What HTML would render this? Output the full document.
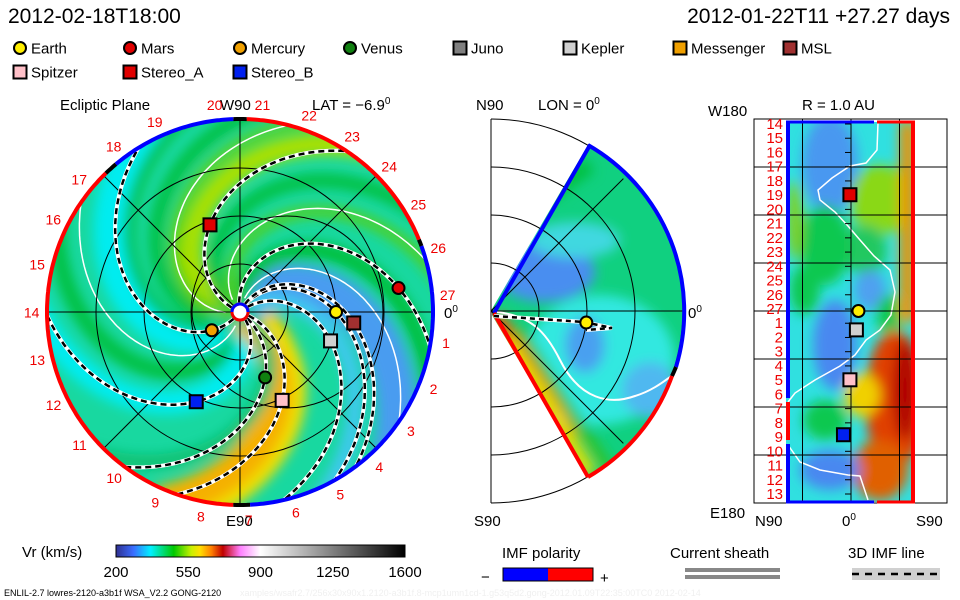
<!DOCTYPE html>
<html><head><meta charset="utf-8"><style>
html,body{margin:0;padding:0;background:#fff;}
svg{display:block;font-family:"Liberation Sans",sans-serif;}
</style></head><body>
<svg id="s" width="960" height="600" viewBox="0 0 960 600">
<defs>
<clipPath id="clipL"><circle cx="240" cy="312" r="193"/></clipPath>
<clipPath id="clipM"><path d="M492,309 L588,145 A192,192 0 0 1 588,477 L492,315 Z"/></clipPath>
<clipPath id="clipR"><rect x="786" y="122" width="129" height="380"/></clipPath>
<filter id="bl" x="-50%" y="-50%" width="200%" height="200%"><feGaussianBlur stdDeviation="6"/></filter>
<linearGradient id="cbar" x1="0" x2="1" y1="0" y2="0">
<stop offset="0" stop-color="#303090"/><stop offset="0.06" stop-color="#3a6cff"/><stop offset="0.12" stop-color="#00f0ff"/>
<stop offset="0.2" stop-color="#00c800"/><stop offset="0.26" stop-color="#c8f000"/><stop offset="0.29" stop-color="#ffe000"/>
<stop offset="0.33" stop-color="#ff8000"/><stop offset="0.37" stop-color="#c00000"/><stop offset="0.43" stop-color="#ff80ff"/>
<stop offset="0.5" stop-color="#ffffff"/><stop offset="1" stop-color="#000000"/>
</linearGradient>
</defs>

<text x="8" y="23" font-size="21">2012-02-18T18:00</text>
<text x="950" y="23" font-size="21" text-anchor="end">2012-01-22T11 +27.27 days</text>

<g id="legend" font-size="15"></g>

<g>
<text x="60" y="110" font-size="15">Ecliptic Plane</text>
<text x="220" y="110" font-size="15">W90</text>
<text x="312" y="110" font-size="15">LAT = −6.9<tspan dy="-6" font-size="10">0</tspan></text>
<text x="226" y="526" font-size="15">E90</text>
<text x="444" y="318" font-size="15">0<tspan dy="-6" font-size="10">0</tspan></text>
<g clip-path="url(#clipL)">
<circle cx="240" cy="312" r="193" fill="#18d8a0"/>
<g id="bandsL" filter="url(#bl)"></g>
<g id="contL"></g>
<g id="gridL" stroke="#000" stroke-width="1" fill="none"></g>
<g id="spiralL"></g>
</g>
<g id="rimL"></g>
<circle cx="240" cy="312" r="8" fill="#fff" stroke="#e00" stroke-width="3"/>
<path d="M232,312 A8,8 0 0 1 248,312" fill="none" stroke="#00f" stroke-width="3"/>
<g id="lonLabels" fill="#e00" font-size="14"></g>
<g id="scL"></g>
</g>

<g>
<text x="476" y="110" font-size="15">N90</text>
<text x="538" y="110" font-size="15">LON = 0<tspan dy="-6" font-size="10">0</tspan></text>
<text x="474" y="526" font-size="15">S90</text>
<text x="688" y="318" font-size="15">0<tspan dy="-6" font-size="10">0</tspan></text>
<g clip-path="url(#clipM)">
<rect x="480" y="130" width="220" height="360" fill="#10d080"/>
<g filter="url(#bl)">
<ellipse cx="600" cy="360" rx="75" ry="65" fill="#30e8e0"/>
<ellipse cx="545" cy="272" rx="50" ry="30" fill="#4a8ef0"/>
<ellipse cx="585" cy="345" rx="20" ry="28" fill="#4aa0f0"/>
<ellipse cx="650" cy="390" rx="28" ry="28" fill="#50b8f0"/>
<ellipse cx="575" cy="240" rx="45" ry="18" fill="#40d8e0"/>
<path d="M540,200 L590,165" stroke="#00c040" stroke-width="16" fill="none"/>
<path d="M495,318 L530,370 L570,440" stroke="#f06000" stroke-width="18" fill="none"/>
<path d="M505,340 L545,400 L590,475" stroke="#f0e000" stroke-width="14" fill="none"/>
<path d="M520,330 L560,395 L610,470" stroke="#30c020" stroke-width="10" fill="none"/>
<path d="M510,240 L560,170" stroke="#80d020" stroke-width="10" fill="none"/>
</g>
<path d="M497,312 C530,316 545,330 560,360 C580,400 610,405 635,396 C655,390 668,378 680,370" stroke="#fff" stroke-width="2" fill="none"/>
</g>
<g stroke="#000" stroke-width="1" fill="none" id="gridM"></g>
<path d="M494,313 L590,145" stroke="#00f" stroke-width="4" fill="none"/>
<path d="M588,145 A192,192 0 0 1 676,367" stroke="#00f" stroke-width="4" fill="none"/>
<path d="M676,367 A192,192 0 0 1 672,376" stroke="#000" stroke-width="4" fill="none"/>
<path d="M672,376 A192,192 0 0 1 588,477" stroke="#f00" stroke-width="4" fill="none"/>
<path d="M494,313 L588,477" stroke="#f00" stroke-width="4" fill="none"/>
<path d="M494,316 L584,322 L612,328 L586,330" stroke="#fff" stroke-width="4" fill="none"/>
<path d="M494,316 L584,322 L612,328 L586,330" stroke="#000" stroke-width="2.5" stroke-dasharray="5,4" fill="none"/>
<g id="scM"></g>
</g>

<g>
<text x="802" y="110" font-size="15">R = 1.0 AU</text>
<text x="708" y="116" font-size="15">W180</text>
<text x="710" y="518" font-size="15">E180</text>
<text x="755" y="526" font-size="15">N90</text>
<text x="842" y="526" font-size="15">0<tspan dy="-6" font-size="10">0</tspan></text>
<text x="916" y="526" font-size="15">S90</text>
<rect x="754" y="119" width="193" height="384" fill="#fff" stroke="#000"/>
<g clip-path="url(#clipR)">
<rect x="786" y="122" width="129" height="380" fill="#30e0e0"/>
<g filter="url(#bl)">
<ellipse cx="830" cy="165" rx="28" ry="50" fill="#4a98f0"/>
<ellipse cx="880" cy="200" rx="30" ry="35" fill="#8ad818"/>
<ellipse cx="865" cy="250" rx="22" ry="25" fill="#20c860"/>
<ellipse cx="825" cy="245" rx="25" ry="40" fill="#10c850"/>
<ellipse cx="805" cy="290" rx="15" ry="25" fill="#10c850"/>
<ellipse cx="835" cy="345" rx="22" ry="45" fill="#4a88f0"/>
<ellipse cx="870" cy="290" rx="16" ry="20" fill="#50a0f0"/>
<ellipse cx="890" cy="315" rx="14" ry="20" fill="#10c850"/>
<ellipse cx="895" cy="400" rx="30" ry="70" fill="#e04000"/>
<ellipse cx="905" cy="390" rx="12" ry="50" fill="#b00000"/>
<ellipse cx="862" cy="395" rx="18" ry="22" fill="#f0d000"/>
<ellipse cx="880" cy="470" rx="28" ry="30" fill="#e06000"/>
<ellipse cx="830" cy="470" rx="30" ry="20" fill="#4a88f0"/>
<ellipse cx="825" cy="420" rx="22" ry="20" fill="#10c850"/>
<rect x="900" y="122" width="15" height="200" fill="#f09000"/>
<ellipse cx="795" cy="220" rx="8" ry="40" fill="#80d020"/>
</g>
<polyline points="878,123 877,150 866,163 850,166 832,178 818,190 820,200 835,212 848,226 860,240 874,256 890,270 895,292 891,315 880,330 866,340 855,355 840,366 815,380 795,393 788,402" fill="none" stroke="#fff" stroke-width="1.5"/>
<polyline points="788,445 800,462 820,470 848,475 860,476 868,500" fill="none" stroke="#fff" stroke-width="1.5"/>
</g>
<g id="gridR" stroke="#000" stroke-width="1"></g>
<path d="M788,122 L788,398" stroke="#00f" stroke-width="4"/>
<path d="M788,402 L788,440" stroke="#f00" stroke-width="4"/>
<path d="M788,444 L788,502" stroke="#00f" stroke-width="4"/>
<path d="M913,122 L913,502" stroke="#f00" stroke-width="4"/>
<path d="M786,122 L874,122" stroke="#00f" stroke-width="3"/>
<path d="M877,122 L915,122" stroke="#f00" stroke-width="3"/>
<path d="M786,502 L874,502" stroke="#00f" stroke-width="3"/>
<path d="M877,502 L915,502" stroke="#f00" stroke-width="3"/>
<g id="rowLabels" fill="#e00" font-size="15"></g>
<g id="scR"></g>
</g>

<g>
<text x="22" y="557" font-size="15">Vr (km/s)</text>
<rect x="116" y="545" width="289" height="12" fill="url(#cbar)" stroke="#000" stroke-width="1"/>
<g id="cbTicks" font-size="15" text-anchor="middle"></g>
</g>
<g>
<text x="502" y="558" font-size="15">IMF polarity</text>
<rect x="503" y="568" width="45" height="13" fill="#00f"/>
<rect x="548" y="568" width="45" height="13" fill="#f00"/>
<rect x="503" y="568" width="90" height="13" fill="none" stroke="#000"/>
<text x="481" y="582" font-size="15">−</text><text x="600" y="583" font-size="15">+</text>
</g>
<g>
<text x="670" y="558" font-size="15">Current sheath</text>
<rect x="685" y="568" width="95" height="4" fill="#888"/>
<rect x="685" y="575" width="95" height="4" fill="#888"/>
</g>
<g>
<text x="848" y="558" font-size="15">3D IMF line</text>
<rect x="852" y="568" width="88" height="12" fill="#d0d0d0"/>
<line x1="852" y1="574" x2="940" y2="574" stroke="#000" stroke-width="2.5" stroke-dasharray="7,6"/>
</g>
<text x="4" y="596" font-size="9">ENLIL-2.7 lowres-2120-a3b1f WSA_V2.2 GONG-2120</text>
<text x="240" y="596" font-size="9" fill="#f0f0f0">xamples/wsafr2.7/256x30x90x1.2120-a3b1f.8-mcp1umn1cd-1.g53q5d2.gong-2012.01.09T22:35:00TC0 2012-02-14</text>
</svg>
<script>
var bodyNames = ["Earth","Mars","Mercury","Venus","Kepler","MSL","Spitzer","Stereo_A","Stereo_B"];
var bodyR = [1.0, 1.67, 0.35, 0.73, 0.99, 1.19, 1.02, 0.96, 1.04];
var bodyLon = [0, 8.6, 213, -69, -17.7, -5.5, -64.5, 109, -116];
var bodyLat = [6.9, 0, 0, 0, 5, 0, -1, -1, -7];
var bodyShape = ["c","c","c","c","s","s","s","s","s"];
var bodyColor = ["#ffee00","#e00000","#f0a000","#108010","#d0d0d0","#a03030","#ffc0c8","#e00000","#0020f0"];
var showR = [true,false,false,false,true,false,true,true,true];
var spiralLines = [0,1,2,3,4,5,6,7,8];
var spiralK = [60,55,55,45,58,58,45,50,65];
var legendNames = ["Earth","Mars","Mercury","Venus","Juno","Kepler","Messenger","MSL","Spitzer","Stereo_A","Stereo_B"];
var legendShape = ["c","c","c","c","s","s","s","s","s","s","s"];
var legendColor = ["#ffee00","#e00000","#f0a000","#108010","#808080","#d0d0d0","#f0a000","#a03030","#ffc0c8","#e00000","#0020f0"];
var bandPhase = [175, 150, 205, 240, 275, 300, -25, -10, 55, 35, 95, 125, 330, 225, 190];
var bandK = [57, 57, 57, 57, 57, 57, 40, 42, 45, 48, 55, 55, 50, 57, 57];
var bandColor = ["#a8e000","#00c040","#00c040","#00ecf0","#00c040","#00ecf0","#f5b000","#f0e000","#4a9cf0","#40c8f0","#00c040","#50d020","#10c070","#00c040","#60d010"];
var bandWidth = [22, 14, 14, 30, 16, 24, 40, 14, 40, 16, 18, 12, 14, 10, 10];
var contourPhase = [190, 130, 80, 260];
var lonLabelText = ["20","21","22","23","24","25","26","27","1","2","3","4","5","6","7","8","9","10","11","12","13","14","15","16","17","18","19"];
var rowLabels = ["14","15","16","17","18","19","20","21","22","23","24","25","26","27","1","2","3","4","5","6","7","8","9","10","11","12","13"];
var cbTicks = [200, 550, 900, 1250, 1600];

var NS="http://www.w3.org/2000/svg";
var LC={x:240,y:312}, AU=96;
function lx(r,a){return LC.x + r*AU*Math.cos(a*Math.PI/180);}
function ly(r,a){return LC.y - r*AU*Math.sin(a*Math.PI/180);}
var MC={x:491,y:311};
function mx(r,lat){return MC.x + r*AU*Math.cos(lat*Math.PI/180);}
function my(r,lat){return MC.y + r*AU*Math.sin(lat*Math.PI/180);}
function rx(lat){return 851 + lat*97/90;}
function ry(lon){return 311 - lon*192/180;}
function cbx(v){return 116 + (v-200)/1400*289;}
function el(tag,attrs,parent){var e=document.createElementNS(NS,tag);for(var k in attrs)e.setAttribute(k,attrs[k]);parent.appendChild(e);return e;}
function spiralPath(phi0,k,r0,r1){var d="";for(var r=r0;r<=r1;r+=0.02){var a=phi0-k*r;d+=(d?"L":"M")+lx(r,a).toFixed(1)+","+ly(r,a).toFixed(1);}return d;}
function marker(parent,shape,x,y,color,name){
  var m;
  if(shape==="c"){m=el("circle",{cx:x,cy:y,r:6,fill:color,stroke:"#000","stroke-width":2},parent);}
  else{m=el("rect",{x:x-6.5,y:y-6.5,width:13,height:13,fill:color,stroke:"#000","stroke-width":2},parent);}
  
  
  return m;
}

var lg=document.getElementById("legend");
for(var i=0;i<legendNames.length;i++){
  var row=i<8?0:1, col=i<8?i:i-8;
  var x=20+col*110, y=row?72:48;
  marker(lg,legendShape[i],x,y,legendColor[i],"legend-marker-"+legendNames[i].toLowerCase());
  var t=el("text",{x:x+11,y:y+5.5},lg);t.textContent=legendNames[i];
  
  
}

var bg=document.getElementById("bandsL");
for(var i=0;i<bandPhase.length;i++){
  var p=el("path",{d:spiralPath(bandPhase[i],bandK[i],0.05,2.2),stroke:bandColor[i],"stroke-width":bandWidth[i],fill:"none"},bg);
  
  
}
var cg=document.getElementById("contL");
for(var i=0;i<contourPhase.length;i++){
  var p=el("path",{d:spiralPath(contourPhase[i],57,0.15,2.2),stroke:"#fff","stroke-width":1.5,fill:"none"},cg);
  
  
}
var gl=document.getElementById("gridL");
[0.5,1.0,1.5].forEach(function(r){el("circle",{cx:LC.x,cy:LC.y,r:r*AU},gl);});
el("circle",{cx:LC.x+47,cy:LC.y,r:AU},gl);
[0,45,90,135].forEach(function(a){el("line",{x1:lx(2.1,a),y1:ly(2.1,a),x2:lx(2.1,a+180),y2:ly(2.1,a+180)},gl);});
var sg=document.getElementById("spiralL");
for(var j=0;j<spiralLines.length;j++){
  var i=spiralLines[j], phi0=bodyLon[i]+spiralK[i]*bodyR[i];
  var d=spiralPath(phi0,spiralK[i],0.1,2.2);
  el("path",{d:d,stroke:"#fff","stroke-width":4,fill:"none"},sg);
  var p=el("path",{d:d,stroke:"#000","stroke-width":2.5,"stroke-dasharray":"6,4",fill:"none"},sg);
  
  
}
var rim=document.getElementById("rimL");
function rimArc(a1,a2,color){var d="";for(var a=a1;a<=a2;a+=1){d+=(d?"L":"M")+lx(193/AU,a).toFixed(1)+","+ly(193/AU,a).toFixed(1);}el("path",{d:d,stroke:color,"stroke-width":4,fill:"none"},rim);}
rimArc(22,88,"#f00");rimArc(88,92,"#000");rimArc(92,130,"#00f");rimArc(130,134,"#000");rimArc(134,268,"#f00");rimArc(268,273,"#000");rimArc(273,380,"#00f");rimArc(380,382,"#000");
var ll=document.getElementById("lonLabels");
for(var i=0;i<lonLabelText.length;i++){
  var a=97-i*(360/27.3);
  var t=el("text",{x:lx(2.17,a),y:ly(2.17,a)+5,"text-anchor":"middle"},ll);t.textContent=lonLabelText[i];
}
var scL=document.getElementById("scL");
for(var i=0;i<bodyNames.length;i++){marker(scL,bodyShape[i],lx(bodyR[i],bodyLon[i]),ly(bodyR[i],bodyLon[i]),bodyColor[i],"ecliptic-"+bodyNames[i].toLowerCase());}

var gm=document.getElementById("gridM");
[0.5,1,1.5,2].forEach(function(r){el("path",{d:"M491,"+(311-r*AU)+" A"+r*AU+","+r*AU+" 0 0 1 491,"+(311+r*AU)},gm);});
el("line",{x1:491,y1:119,x2:491,y2:503},gm);
el("line",{x1:491,y1:311,x2:686,y2:311},gm);
el("line",{x1:491,y1:311,x2:mx(1.95,-45),y2:my(1.95,-45)},gm);
el("line",{x1:491,y1:311,x2:mx(1.95,45),y2:my(1.95,45)},gm);
marker(document.getElementById("scM"),"c",mx(bodyR[0],bodyLat[0]),my(bodyR[0],bodyLat[0]),bodyColor[0],"meridional-earth");

var gr=document.getElementById("gridR");
[-45,0,45].forEach(function(l){el("line",{x1:rx(l),y1:119,x2:rx(l),y2:503},gr);});
[135,90,45,0,-45,-90,-135].forEach(function(l){el("line",{x1:754,y1:ry(l),x2:947,y2:ry(l)},gr);});
var rl=document.getElementById("rowLabels");
for(var i=0;i<rowLabels.length;i++){
  var y=124+i*(370/26);
  var t=el("text",{x:783,y:y+5,"text-anchor":"end"},rl);t.textContent=rowLabels[i];
  el("line",{x1:845,y1:y,x2:851,y2:y},gr);
}
var scR=document.getElementById("scR");
for(var i=0;i<bodyNames.length;i++){if(showR[i])marker(scR,bodyShape[i],rx(bodyLat[i]),ry(bodyLon[i]),bodyColor[i],"shell-"+bodyNames[i].toLowerCase());}

var cb=document.getElementById("cbTicks");
for(var i=0;i<cbTicks.length;i++){var t=el("text",{x:cbx(cbTicks[i]),y:577},cb);t.textContent=cbTicks[i];}
</script>
</body></html>
